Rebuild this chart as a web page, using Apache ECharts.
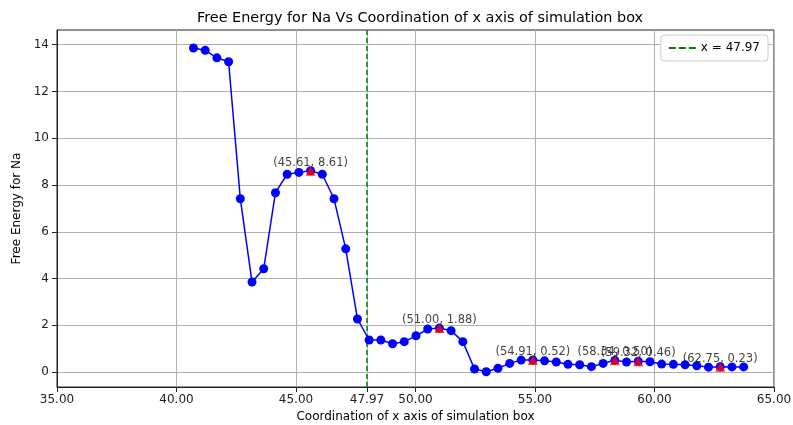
<!DOCTYPE html>
<html>
<head>
<meta charset="utf-8">
<script src="https://cdn.jsdelivr.net/npm/echarts@6/dist/echarts.min.js"></script>
<style>html,body{margin:0;padding:0;background:#fff;overflow:hidden;}#c{width:793px;height:425px;}</style>
</head>
<body>
<div id="c"></div>
<script>
var xValues = [40.71, 41.20, 41.69, 42.18, 42.67, 43.16, 43.65, 44.14, 44.63, 45.12, 45.61, 46.10, 46.59, 47.08, 47.57, 48.06, 48.55, 49.04, 49.53, 50.02, 50.51, 51.00, 51.49, 51.98, 52.47, 52.96, 53.45, 53.94, 54.42, 54.91, 55.40, 55.89, 56.38, 56.87, 57.36, 57.85, 58.34, 58.83, 59.32, 59.81, 60.30, 60.79, 61.28, 61.77, 62.26, 62.75, 63.24, 63.73];
var energy = [13.86, 13.76, 13.44, 13.27, 7.41, 3.85, 4.42, 7.67, 8.46, 8.54, 8.61, 8.46, 7.41, 5.27, 2.27, 1.37, 1.37, 1.21, 1.30, 1.55, 1.84, 1.88, 1.77, 1.30, 0.13, 0.01, 0.16, 0.37, 0.51, 0.52, 0.48, 0.43, 0.33, 0.31, 0.23, 0.37, 0.50, 0.43, 0.46, 0.44, 0.34, 0.33, 0.31, 0.27, 0.21, 0.23, 0.22, 0.22];
var peakX = [45.61, 51.00, 54.91, 58.34, 59.32, 62.75];
var peakY = [8.61, 1.88, 0.52, 0.50, 0.46, 0.23];
var vlineX = 47.97;
var xTicks = [35, 40, 45, 47.97, 50, 55, 60, 65];
var yTicks = [0, 2, 4, 6, 8, 10, 12, 14];
var xMin = 35, xMax = 65, yMin = -0.64, yMax = 14.63;

var lineData = xValues.map(function (x, i) { return [x, energy[i]]; });
var peakData = peakX.map(function (x, i) { return [x, peakY[i]]; });

var chart = echarts.init(document.getElementById('c'), null, { renderer: 'canvas' });
var font = 'DejaVu Sans';
chart.setOption({
  animation: false,
  backgroundColor: '#fff',
  textStyle: { fontFamily: font },
  title: {
    text: 'Free Energy for Na Vs Coordination of x axis of simulation box',
    left: 415, top: 6, textAlign: 'center',
    textStyle: { fontFamily: font, fontSize: 14.4, fontWeight: 'normal', color: '#000' }
  },
  grid: { left: 57, right: 19, top: 30, bottom: 38, show: true, borderColor: '#222', borderWidth: 1, containLabel: false, outerBoundsMode: 'none' },
  legend: {
    right: 25, top: 35,
    data: [{ name: 'x = 47.97', icon: 'path://M0,0h7v2h-7z M10,0h7v2h-7z M20,0h7v2h-7z' }],
    itemWidth: 27, itemHeight: 2,
    padding: [7, 8, 7, 8],
    borderColor: '#cccccc', borderWidth: 1, borderRadius: 3,
    backgroundColor: '#fff',
    itemStyle: { color: '#008000' },
    textStyle: { fontFamily: font, fontSize: 12, color: '#000' }
  },
  xAxis: {
    type: 'value', min: xMin, max: xMax, interval: 5,
    name: 'Coordination of x axis of simulation box',
    nameLocation: 'middle', nameGap: 24,
    nameTextStyle: { fontFamily: font, fontSize: 12, color: '#000' },
    axisLine: { show: true, onZero: false, lineStyle: { color: '#222', width: 1 } },
    axisTick: { show: true, length: 5, lineStyle: { color: '#222' }, customValues: xTicks },
    axisLabel: { margin: 7, fontFamily: font, fontSize: 12, color: '#222', customValues: xTicks,
      formatter: function (v) { return Number(v).toFixed(2); } },
    splitLine: { show: true, lineStyle: { color: '#b0b0b0', width: 1 } }
  },
  yAxis: {
    type: 'value', min: yMin, max: yMax,
    name: 'Free Energy for Na',
    nameLocation: 'middle', nameGap: 31,
    nameTextStyle: { fontFamily: font, fontSize: 12, color: '#000' },
    axisLine: { show: true, onZero: false, lineStyle: { color: '#222', width: 1 } },
    axisTick: { show: true, length: 5, lineStyle: { color: '#222' }, customValues: yTicks },
    axisLabel: { margin: 8, fontFamily: font, fontSize: 12, color: '#222', customValues: yTicks,
      formatter: function (v) { return String(Math.round(v)); } },
    splitLine: { show: true, lineStyle: { color: '#b0b0b0', width: 1 } }
  },
  series: [
    {
      name: 'x = 47.97', type: 'line',
      data: [[vlineX, yMin], [vlineX, yMax]],
      showSymbol: false, symbol: 'none',
      lineStyle: { color: '#008000', width: 1.5, type: [5, 3] },
      itemStyle: { color: '#008000' },
      z: 3, silent: true
    },
    {
      name: 'energy', type: 'line',
      data: lineData,
      symbol: 'circle', symbolSize: 9,
      lineStyle: { color: '#0000ff', width: 1.5 },
      itemStyle: { color: '#0000ff' },
      z: 4
    },
    {
      name: 'peaks', type: 'scatter',
      data: peakData,
      symbol: 'triangle', symbolSize: 10,
      itemStyle: { color: '#ff0000' },
      label: {
        show: true, position: 'inside', offset: [0, -8],
        fontFamily: font, fontSize: 11.5, color: '#111',
        formatter: function (p) { return '(' + p.value[0].toFixed(2) + ', ' + p.value[1].toFixed(2) + ')'; }
      },
      z: 5
    }
  ]
});
</script>
</body>
</html>
